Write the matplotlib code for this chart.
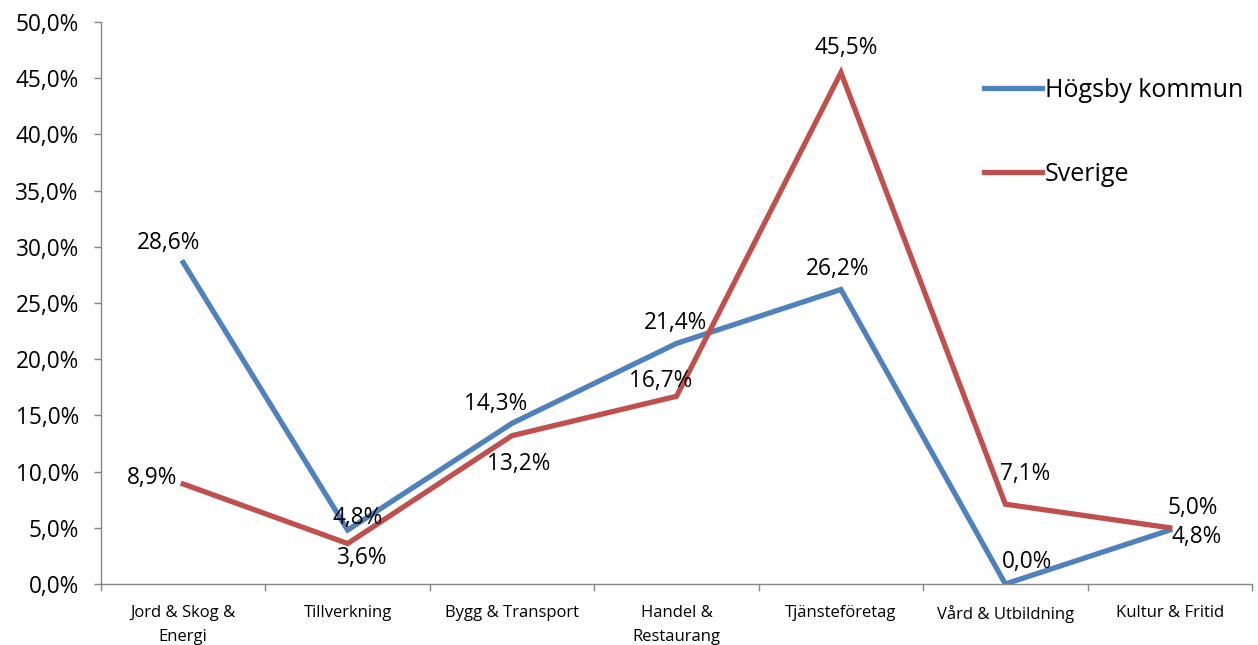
import matplotlib
matplotlib.use("Agg")
import matplotlib.pyplot as plt
from matplotlib.ticker import FixedLocator, FuncFormatter

categories = ["Jord & Skog &\nEnergi", "Tillverkning", "Bygg & Transport", "Handel &\nRestaurang",
              "Tjänsteföretag", "Vård & Utbildning", "Kultur & Fritid"]
hogsby = [28.6, 4.8, 14.3, 21.4, 26.2, 0.0, 4.8]
sverige = [8.9, 3.6, 13.2, 16.7, 45.5, 7.1, 5.0]
series_names = ["Högsby kommun", "Sverige"]

# label offsets in pixels (dx, dy), text centered
hog_off = [(-15, 20), (10, 12), (-16, 19), (-1, 20), (-3, 21), (22, 22), (27, -7)]
sve_off = [(-31, 6), (15, -14), (7, -28), (-16, 15), (5, 25), (20, 30), (23, 20)]

plt.rcParams['font.family'] = ['Open Sans', 'DejaVu Sans']

fig = plt.figure(figsize=(12.58, 6.45), dpi=100)
ax = fig.add_axes([101/1258, 61/645, (1252-101)/1258, (584-22)/645])

blue = "#4F81BD"
red = "#C0504D"
x = list(range(len(categories)))
l1, = ax.plot(x, hogsby, color=blue, lw=3.8, solid_joinstyle='miter', label=series_names[0])
l2, = ax.plot(x, sverige, color=red, lw=3.8, solid_joinstyle='miter', label=series_names[1])

def fmt(v):
    return f"{v:.1f}%".replace(".", ",")

LBL = 16.3
for xi, v, o in zip(x, hogsby, hog_off):
    ax.annotate(fmt(v), (xi, v), xytext=(o[0]*0.72, o[1]*0.72), textcoords='offset points',
                ha='center', va='center', fontsize=LBL, color='black')
for xi, v, o in zip(x, sverige, sve_off):
    ax.annotate(fmt(v), (xi, v), xytext=(o[0]*0.72, o[1]*0.72), textcoords='offset points',
                ha='center', va='center', fontsize=LBL, color='black')

ax.set_xlim(-0.5, len(categories) - 0.5)
ax.set_ylim(0, 50)
ax.set_yticks([i * 5 for i in range(11)])
ax.yaxis.set_major_formatter(FuncFormatter(lambda v, p: fmt(v)))
ax.tick_params(axis='y', labelsize=LBL, length=5, width=1, color='#868686', direction='out', pad=11)

ax.xaxis.set_major_locator(FixedLocator([i - 0.5 for i in range(len(categories) + 1)]))
ax.xaxis.set_major_formatter(FuncFormatter(lambda v, p: ""))
ax.xaxis.set_minor_locator(FixedLocator(x))
ax.set_xticklabels(categories, minor=True)
ax.tick_params(axis='x', which='major', length=5, width=1, color='#868686', direction='out')
ax.tick_params(axis='x', which='minor', length=0, labelsize=12, pad=15)
for t in ax.xaxis.get_minorticklabels():
    t.set_linespacing(1.7)
    t.set_va('top')

for s in ['top', 'right']:
    ax.spines[s].set_visible(False)
for s in ['left', 'bottom']:
    ax.spines[s].set_color('#868686')
    ax.spines[s].set_linewidth(1)

leg = ax.legend(handles=[l1, l2], loc='upper left', bbox_to_anchor=(984/1258, 1 - 78/645),
                bbox_transform=fig.transFigure, frameon=False, fontsize=18,
                handlelength=2.3, handletextpad=0.15, labelspacing=2.36,
                borderpad=0, borderaxespad=0)

fig.savefig("out.png", dpi=100)
